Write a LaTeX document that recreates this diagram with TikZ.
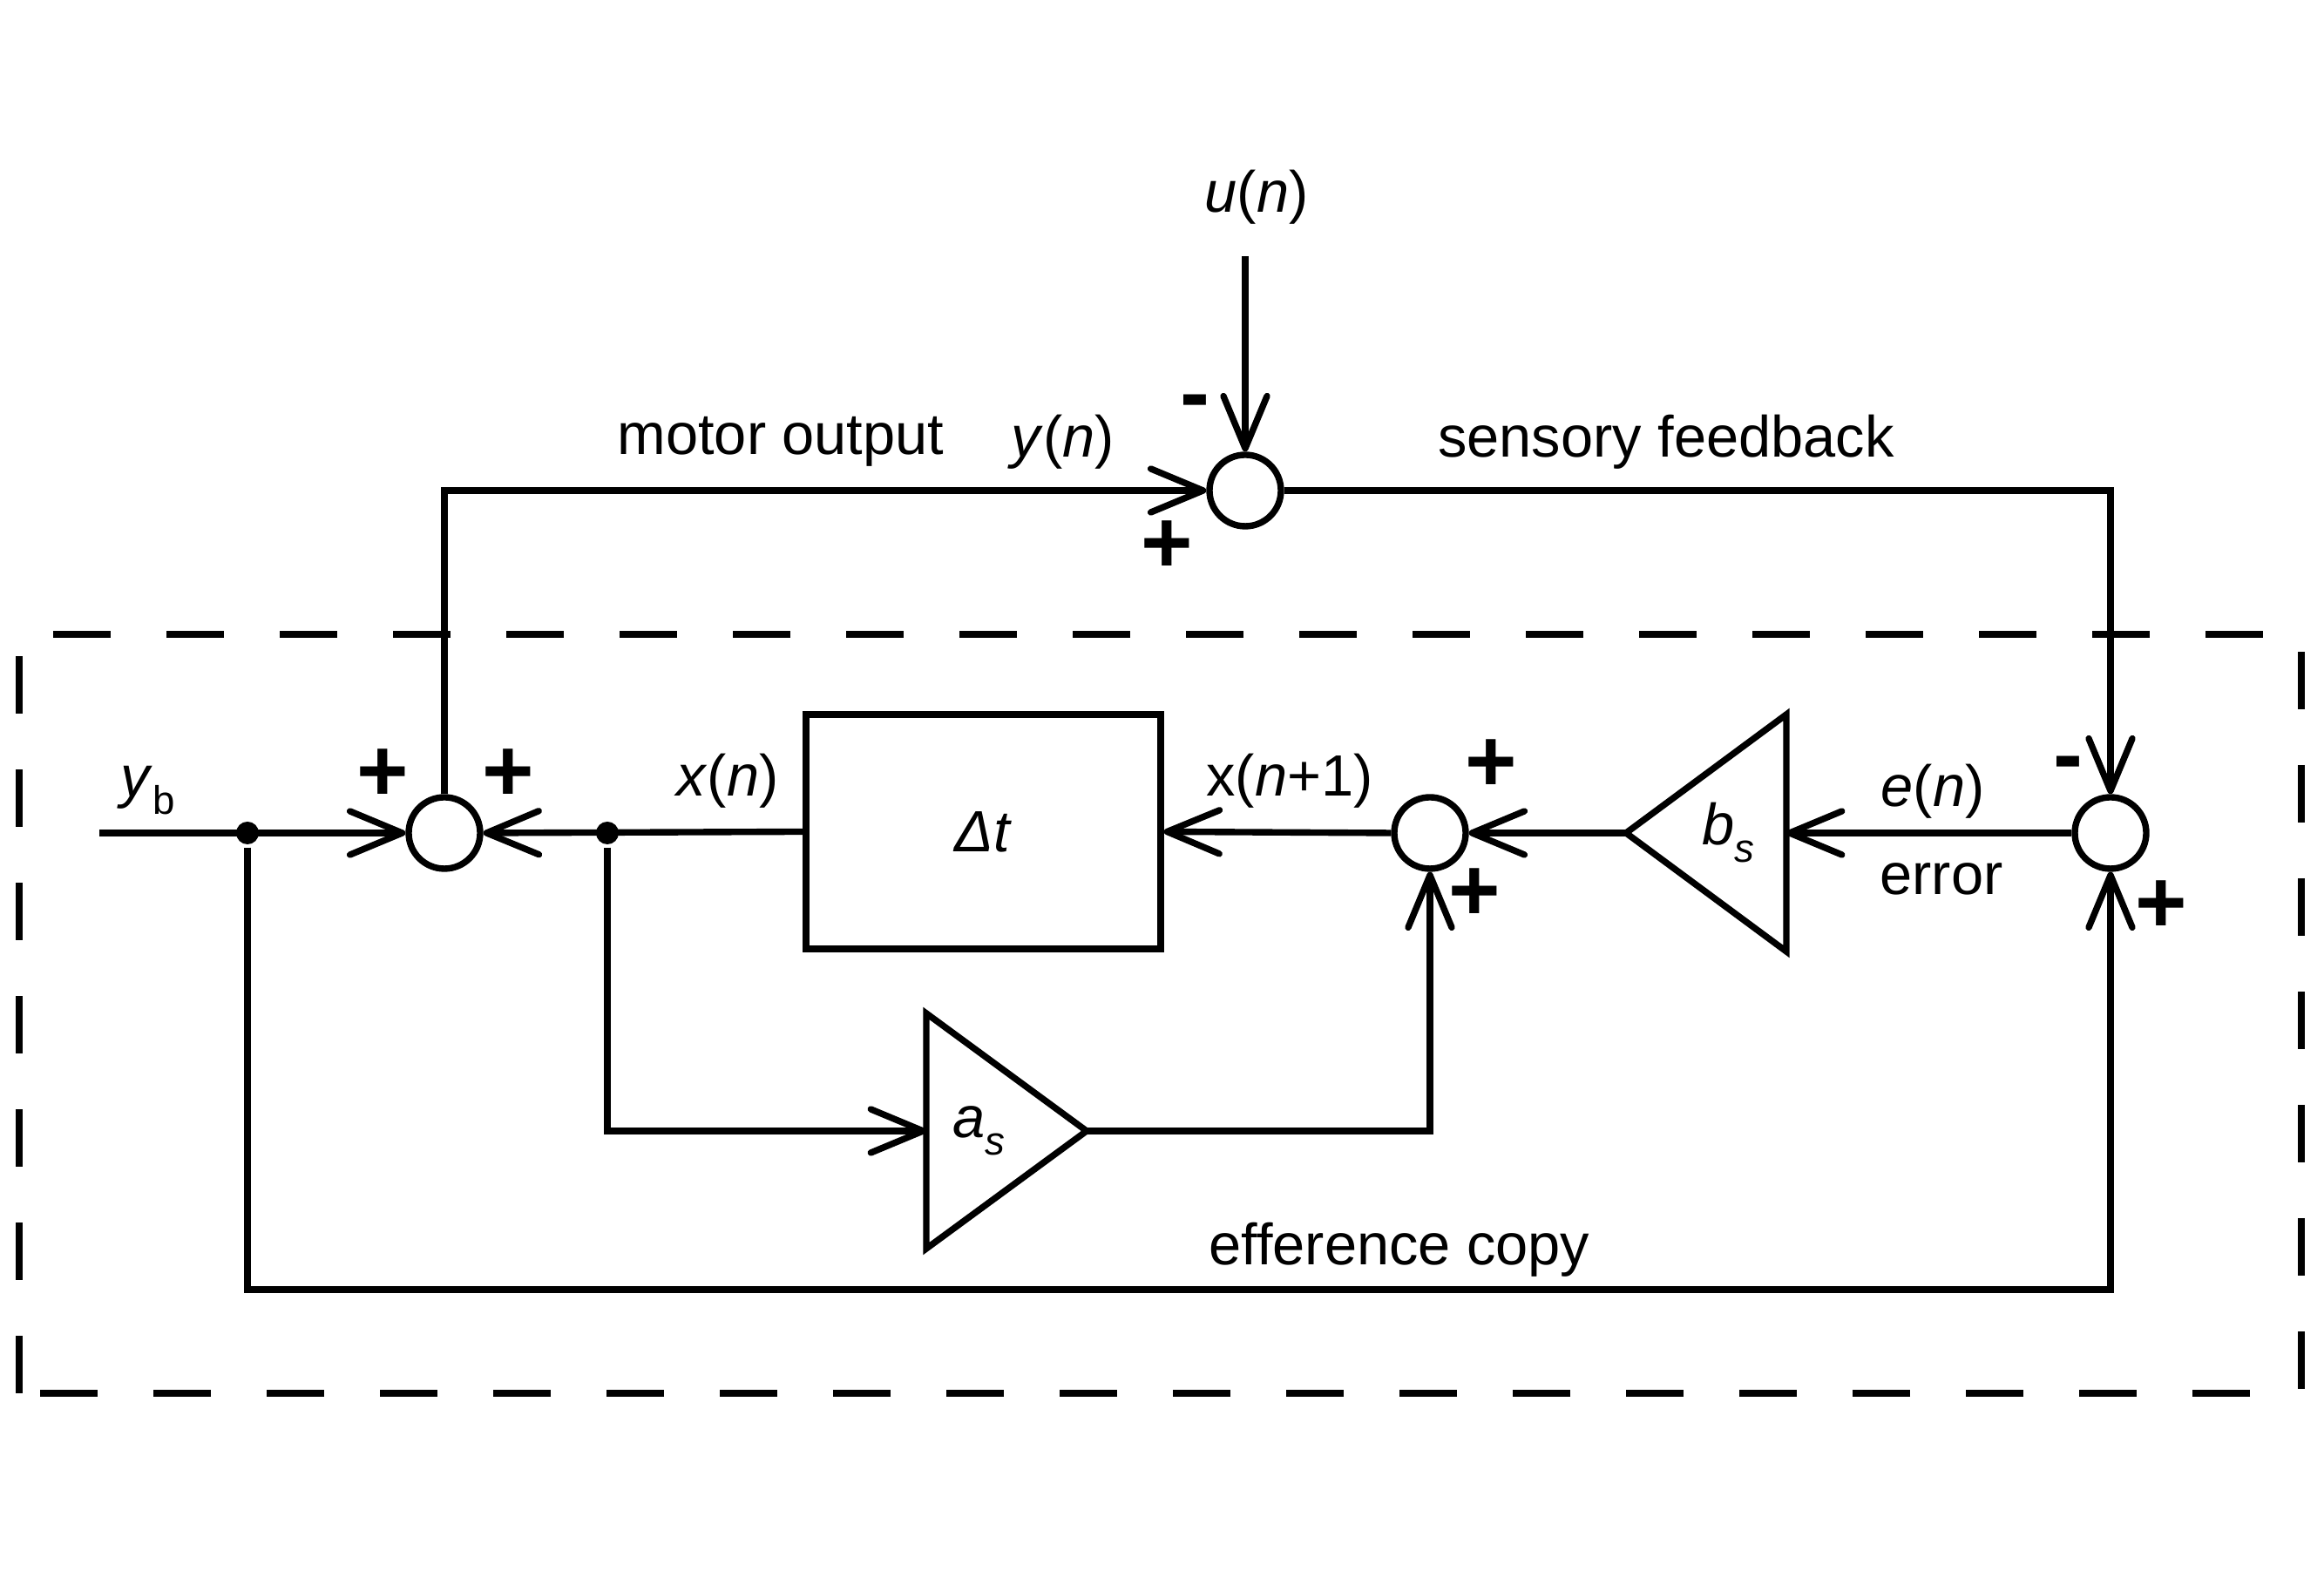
\documentclass[tikz,border=0pt]{standalone}
\usepackage{fontspec}
\setmainfont{Liberation Sans}
\usetikzlibrary{arrows.meta,positioning,calc}

\newcommand{\lowsub}[1]{\raisebox{-0.3em}{\fontsize{13}{13}\selectfont #1}}

\begin{document}
\begin{tikzpicture}[
    font=\fontsize{19}{23}\selectfont,
    line width=2.1pt,
    >={Straight Barb[length=6mm, width=5mm, round]},
    sumnode/.style={circle, draw, minimum size=8.2mm, inner sep=0pt, fill=white},
    delay/.style={draw, minimum width=40.7mm, minimum height=26.9mm, inner sep=0pt},
    joint/.style={circle, fill=black, minimum size=2.6mm, inner sep=0pt},
    sign/.style={font=\fontsize{29}{33}\selectfont\bfseries, inner sep=0pt},
    frame/.style={dash pattern=on 6.6mm off 6.4mm, line width=2.3pt},
]
    \useasboundingbox (0,0) rectangle (26.67,18.11);

    % --- Internal model frame ---
    \draw[frame] (0.22,2.12) rectangle (26.41,10.83);

    % --- Summing points ---
    \node[sumnode] (sumIn) at (5.10, 8.55) {};
    \node[sumnode] (sumOut) at (14.29, 12.48) {};
    \node[sumnode] (sumState) at (16.41, 8.55) {};
    \node[sumnode] (sumErr) at (24.22, 8.55) {};

    % --- Delay block ---
    \node[delay] (delayBox) at (11.285, 8.565) {\textit{Δt}};

    % --- Gains ---
    \coordinate (bsTip) at (18.66, 8.55);
    \coordinate (bsBase) at (20.50, 8.55);
    \draw (bsTip) -- ($(bsBase)+(0,1.36)$) -- ($(bsBase)+(0,-1.36)$) -- cycle;
    \node (bsLabel) at (19.83, 8.55) {\textit{b}\lowsub{\textit{s}}};

    \coordinate (asBase) at (10.63, 5.13);
    \coordinate (asTip) at (12.47, 5.13);
    \draw (asTip) -- ($(asBase)+(0,1.35)$) -- ($(asBase)+(0,-1.35)$) -- cycle;
    \node (asLabel) at (11.23, 5.13) {\textit{a}\lowsub{\textit{s}}};

    % --- Branch points ---
    \coordinate (ybStart) at (1.14, 8.55);
    \node[joint] (tapY) at (2.84, 8.55) {};
    \node[joint] (tapX) at (6.97, 8.55) {};
    \coordinate (uStart) at (14.29, 15.17);
    \coordinate (copyTurn) at (24.22, 3.31);

    % --- Connections ---
    \draw[->] (ybStart) -- (sumIn.west);
    \draw[->] (delayBox.west) -- (sumIn.east);
    \draw[->] (sumState.west) -- (delayBox.east);
    \draw[->] (bsTip) -- (sumState.east);
    \draw[->] (sumErr.west) -- (bsBase);
    \draw[->] (tapX) |- (asBase);
    \draw[->] (asTip) -| (sumState.south);
    \draw[->] (tapY) |- (copyTurn) -- (sumErr.south);
    \draw[->] (sumIn.north) |- (sumOut.west);
    \draw[->] (sumOut.east) -| (sumErr.north);
    \draw[->] (uStart) -- (sumOut.north);

    % --- Labels ---
    \node (uLabel) at (14.42, 15.85) {\textit{u}(\textit{n})};
    \node (motorLabel) at (8.96, 13.04) {motor output};
    \node (yLabel) at (12.20, 13.04) {\textit{y}(\textit{n})};
    \node (sensLabel) at (19.12, 13.04) {sensory feedback};
    \node (ybLabel) at (1.70, 9.04) {\textit{y}\lowsub{b}};
    \node (xLabel) at (8.35, 9.15) {\textit{x}(\textit{n})};
    \node (xNextLabel) at (14.80, 9.15) {x(\textit{n}+1)};
    \node (eLabel) at (22.18, 9.03) {\textit{e}(\textit{n})};
    \node (errLabel) at (22.28, 8.02) {error};
    \node (copyLabel) at (16.06, 3.77) {efference copy};

    % --- Signs ---
    \node[sign] (sgnInL) at (4.39, 9.21) {+};
    \node[sign] (sgnInR) at (5.83, 9.21) {+};
    \node[sign] (sgnOutU) at (13.71, 13.42) {-};
    \node[sign] (sgnOutY) at (13.39, 11.83) {+};
    \node[sign] (sgnStA) at (17.11, 9.32) {+};
    \node[sign] (sgnStB) at (16.92, 7.84) {+};
    \node[sign] (sgnErrS) at (23.73, 9.27) {-};
    \node[sign] (sgnErrC) at (24.80, 7.70) {+};

\end{tikzpicture}
\end{document}
